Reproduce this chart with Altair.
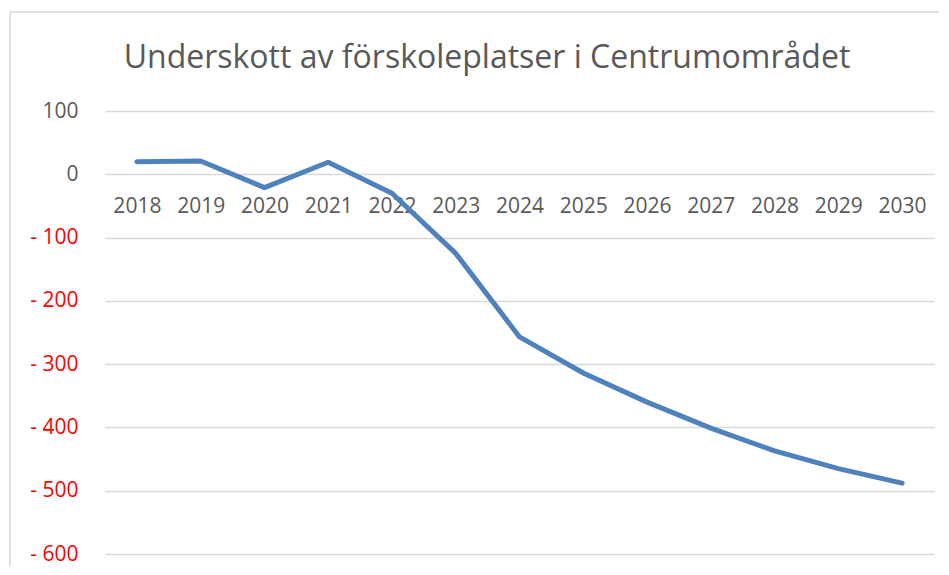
import altair as alt
import pandas as pd

years = ["2018", "2019", "2020", "2021", "2022", "2023", "2024",
         "2025", "2026", "2027", "2028", "2029", "2030"]
values = [20, 21, -21, 19, -30, -125, -257, -314, -360, -401, -437, -465, -488]
y_ticks = [100, 0, -100, -200, -300, -400, -500, -600]
title_text = "Underskott av förskoleplatser i Centrumområdet"

df = pd.DataFrame({"year": years, "value": values})
one = pd.DataFrame({"title": [title_text]})

FONT = "Open Sans"
GRAY = "#595959"

line = alt.Chart(df).mark_line(
    color="#4f81bd", strokeWidth=5, strokeCap="round", strokeJoin="round"
).encode(
    x=alt.X("year:O", sort=years,
            scale=alt.Scale(type="point", padding=0.5),
            axis=alt.Axis(orient="bottom", offset=-380, domain=False, ticks=False,
                          grid=False, labelAngle=0, labelFont=FONT, labelFontSize=21,
                          labelColor=GRAY, labelPadding=21, title=None)),
    y=alt.Y("value:Q",
            scale=alt.Scale(domain=[-600, 100], nice=False, zero=False),
            axis=alt.Axis(values=y_ticks, domain=False, ticks=False, grid=True,
                          gridColor="#d9d9d9", gridWidth=1.3,
                          labelFont=FONT, labelFontSize=21, labelPadding=27,
                          labelExpr="datum.value < 0 ? '- ' + format(-datum.value, 'd') : format(datum.value, 'd')",
                          labelColor={"expr": "datum.value < 0 ? '#ff0000' : '#595959'"},
                          title=None)),
)

frame_left = alt.Chart(one).mark_rule(color="#d9d9d9", strokeWidth=1.5).encode(
    x=alt.value(-95), y=alt.value(-99), y2=alt.value(600)
)
frame_top = alt.Chart(one).mark_rule(color="#d9d9d9", strokeWidth=1.5).encode(
    x=alt.value(-95), x2=alt.value(900), y=alt.value(-99)
)

title_mark = alt.Chart(one).mark_text(
    font=FONT, fontSize=32, fontWeight="normal", color=GRAY,
    align="center", baseline="alphabetic",
).encode(text="title:N", x=alt.value(382), y=alt.value(-43))

chart = alt.layer(frame_left, frame_top, title_mark, line).properties(
    width=829, height=443,
    autosize=alt.AutoSizeParams(type="none"),
    padding={"left": 97, "top": 103, "right": 5, "bottom": 12},
).configure(background="white").configure_view(stroke=None)

chart.save("out.html", embed_options={"renderer": "svg", "actions": False})
